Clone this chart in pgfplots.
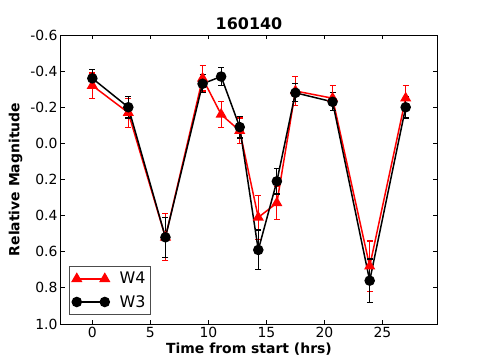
\documentclass[border=0pt]{standalone}
\usepackage{fontspec}
\setmainfont{DejaVu Sans}
\usepackage{pgfplots}
\pgfplotsset{compat=1.18}

\begin{document}
\begin{tikzpicture}
\path[use as bounding box] (-61bp,-36bp) rectangle (424bp,324bp);
\begin{axis}[
  at={(0,0)}, anchor=south west,
  scale only axis, width=376bp, height=289bp,
  xmin=-2.7, xmax=29.7,
  ymin=-0.6, ymax=1.0, y dir=reverse,
  xtick={0,5,10,15,20,25},
  ytick={-0.6,-0.4,-0.2,0,0.2,0.4,0.6,0.8,1.0},
  yticklabel style={/pgf/number format/.cd,fixed,fixed zerofill,precision=1},
  /pgf/number format/assume math mode=true,
  tick label style={font=\fontsize{14}{16}\selectfont},
  tick align=inside, major tick length=4bp,
  tick style={black, line width=0.8bp},
  axis line style={black, line width=1bp},
  title={160140},
  title style={font=\bfseries\fontsize{16}{19}\selectfont, yshift=-4bp},
  xlabel={Time from start (hrs)},
  ylabel={Relative Magnitude},
  label style={font=\bfseries\fontsize{14}{16}\selectfont},
  xlabel style={yshift=2bp},
  ylabel style={yshift=1bp},
  legend style={at={(0.021,0.031)}, anchor=south west, draw=black!70, line width=0.8bp,
    font=\fontsize{16}{19}\selectfont, inner xsep=3bp, inner ysep=4bp, row sep=6bp},
  legend cell align=left,
  legend image code/.code={
    \path (-3bp,0bp) (40bp,0bp);
    \draw[#1,mark=none] (0bp,0bp) -- (28bp,0bp);
    \path[#1] plot coordinates {(0bp,0bp) (28bp,0bp)};
  },
  error bars/y dir=both, error bars/y explicit,
  error bars/error mark options={rotate=90, mark size=3bp, line width=1.2bp},
  error bars/error bar style={line width=1.2bp},
]
\addplot[color=red, line width=1.5bp, mark=triangle*, mark size=5bp,
  mark options={solid, fill=red}] coordinates {
  (0,-0.32) +- (0,0.07)
  (3.1,-0.17) +- (0,0.08)
  (6.3,0.52) +- (0,0.13)
  (9.5,-0.36) +- (0,0.07)
  (11.1,-0.16) +- (0,0.07)
  (12.7,-0.07) +- (0,0.07)
  (14.3,0.41) +- (0,0.12)
  (15.9,0.33) +- (0,0.09)
  (17.5,-0.29) +- (0,0.08)
  (20.7,-0.25) +- (0,0.07)
  (23.9,0.68) +- (0,0.14)
  (27.0,-0.25) +- (0,0.07)
};
\addplot[color=black, line width=1.5bp, mark=*, mark size=4.5bp,
  mark options={solid, fill=black}] coordinates {
  (0,-0.36) +- (0,0.05)
  (3.1,-0.20) +- (0,0.06)
  (6.3,0.52) +- (0,0.11)
  (9.5,-0.33) +- (0,0.05)
  (11.1,-0.37) +- (0,0.05)
  (12.7,-0.09) +- (0,0.06)
  (14.3,0.59) +- (0,0.11)
  (15.9,0.21) +- (0,0.07)
  (17.5,-0.28) +- (0,0.05)
  (20.7,-0.23) +- (0,0.05)
  (23.9,0.76) +- (0,0.12)
  (27.0,-0.20) +- (0,0.06)
};
\legend{W4,W3}
\end{axis}
\end{tikzpicture}
\end{document}
